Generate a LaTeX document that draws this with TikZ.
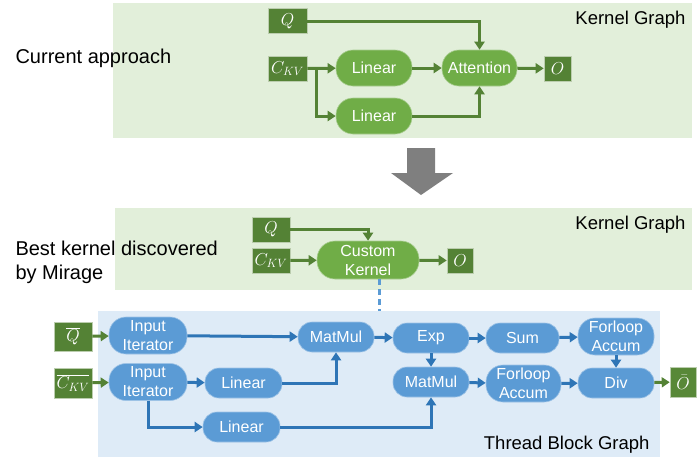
\documentclass[tikz,border=0pt]{standalone}
\usepackage{fontspec}
\setmainfont{Liberation Sans}
\usetikzlibrary{calc,positioning,arrows.meta}
\definecolor{gpanel}{HTML}{E2EFDA}
\definecolor{gnode}{HTML}{70AD47}
\definecolor{gdark}{HTML}{548235}
\definecolor{bpanel}{HTML}{DEEBF7}
\definecolor{bnode}{HTML}{5B9BD5}
\definecolor{bline}{HTML}{2E75B6}
\definecolor{bigarrow}{HTML}{7F7F7F}

\begin{document}
\begin{tikzpicture}[x=1pt,y=-1pt,
    opnode/.style={draw=white!40!gnode, line width=0.6pt, fill=gnode, text=white, rounded corners=17pt,
      minimum width=76pt, minimum height=36pt, inner sep=0pt, font=\fontsize{16}{18}\selectfont, align=center},
    tensor/.style={draw=white!60!gdark, line width=0.6pt, fill=gdark, text=white, minimum height=25pt,
      inner sep=0pt, font=\fontsize{17}{18}\selectfont},
    tbnode/.style={draw=white!40!bnode, line width=0.6pt, fill=bnode, text=white, rounded corners=14pt,
      minimum width=76pt, minimum height=30pt, inner sep=0pt, font=\fontsize{16}{19}\selectfont, align=center},
    garrow/.style={draw=gdark, line width=3pt, -{Triangle[length=8pt,width=10pt]}},
    barrow/.style={draw=bline, line width=3pt, -{Triangle[length=8pt,width=10pt]}},
    gtitle/.style={font=\fontsize{18.5}{22}\selectfont, anchor=east},
    side/.style={font=\fontsize{20}{24}\selectfont, anchor=west, align=left}]
  \useasboundingbox (0,0) rectangle (700,466);

  % panels
  \fill[gpanel] (113,3) rectangle (692,138);
  \fill[gpanel] (115,208) rectangle (692,290);
  \fill[bpanel] (98,311) rectangle (660,457);

  \node[side] (cur) at (12,58) {Current approach};
  \node[side] (best) at (12,262) {Best kernel discovered\\by Mirage};
  \node[gtitle] (kg1) at (689,20) {Kernel Graph};
  \node[gtitle] (kg2) at (689,225) {Kernel Graph};
  \node[gtitle] (tbg) at (653,445) {Thread Block Graph};

  % current approach
  \node[tensor, minimum width=39pt] (q) at (287.5,21) {$Q$};
  \node[tensor, minimum width=39pt] (ckv) at (287.5,68.5) {$C_{KV}$};
  \node[opnode] (lin1) at (374,68) {Linear};
  \node[opnode] (lin2) at (374,116) {Linear};
  \node[opnode, minimum width=75pt] (attn) at (479.5,68) {Attention};
  \node[tensor, minimum width=27pt] (o) at (557.5,68.5) {$O$};
  \coordinate (split) at (316,68.5);

  \draw[garrow] (ckv) -- (lin1);
  \draw[garrow] (split) |- (lin2);
  \draw[garrow] (lin1) -- (attn);
  \draw[garrow] (q) -| (attn);
  \draw[garrow] (lin2) -| (attn);
  \draw[garrow] (attn) -- (o);

  % big arrow
  \fill[bigarrow] (407,148) -- (435,148) -- (435,173) -- (453,173) -- (421,195)
    -- (391,173) -- (407,173) -- cycle;

  % best kernel
  \node[tensor, minimum width=38pt] (q2) at (271,229.5) {$Q$};
  \node[tensor, minimum width=38pt] (ckv2) at (271,260.5) {$C_{KV}$};
  \node[opnode, minimum width=102pt, minimum height=38pt, rounded corners=18pt,
    font=\fontsize{16}{19}\selectfont] (ck) at (368,260) {Custom\\Kernel};
  \node[tensor, minimum width=26pt] (o2) at (460,260.5) {$O$};

  \draw[garrow] (q2) -| (ck);
  \draw[garrow] (ckv2) -- (ck);
  \draw[garrow] (ck) -- (o2);

  \coordinate (tbtop) at (379,311);
  \draw[bnode, line width=3pt, dash pattern=on 6pt off 4pt] (ck.south -| tbtop) -- (tbtop);

  % thread block graph
  \node[tensor, minimum width=38pt, minimum height=29pt] (qb) at (73,336.5) {$\overline{Q}$};
  \node[tensor, minimum width=38pt, minimum height=30pt] (ckvb) at (73,383) {$\overline{C_{KV}}$};
  \node[tbnode, minimum width=78pt, minimum height=37pt, rounded corners=17pt] (ii1) at (148,335.5) {Input\\Iterator};
  \node[tbnode, minimum width=78pt, minimum height=37pt, rounded corners=17pt] (ii2) at (148,382) {Input\\Iterator};
  \node[tbnode, minimum width=77pt] (blin1) at (243.5,383) {Linear};
  \node[tbnode, minimum width=77pt] (blin2) at (241.5,427) {Linear};
  \node[tbnode] (mm1) at (336,337) {MatMul};
  \node[tbnode] (exp) at (431,338) {Exp};
  \node[tbnode, minimum width=73pt] (sum) at (522.5,338) {Sum};
  \node[tbnode, minimum height=37pt, rounded corners=17pt] (fa1) at (616,336.5) {Forloop\\Accum};
  \node[tbnode] (mm2) at (431,382) {MatMul};
  \node[tbnode, minimum width=75pt, minimum height=37pt, rounded corners=17pt] (fa2) at (523.5,383.5) {Forloop\\Accum};
  \node[tbnode] (div) at (616,383) {Div};
  \node[tensor, minimum width=26pt, minimum height=30pt, fill=gdark!85!gnode] (ob) at (683,382) {$\bar{O}$};

  \draw[garrow] (qb) -- (ii1);
  \draw[garrow] (ckvb) -- (ii2);
  \draw[barrow] (ii1) -- (mm1);
  \draw[barrow] (ii2) -- (blin1);
  \draw[barrow] (ii2) |- (blin2);
  \draw[barrow] (blin1) -| (mm1);
  \draw[barrow] (mm1) -- (exp);
  \draw[barrow] (exp) -- (sum);
  \draw[barrow] (sum) -- (fa1);
  \draw[barrow] (exp) -- (mm2);
  \draw[barrow] (blin2) -| (mm2);
  \draw[barrow] (mm2) -- (fa2);
  \draw[barrow] (fa2) -- (div);
  \draw[barrow] (fa1) -- (div);
  \draw[garrow] (div) -- (ob);
\end{tikzpicture}
\end{document}
